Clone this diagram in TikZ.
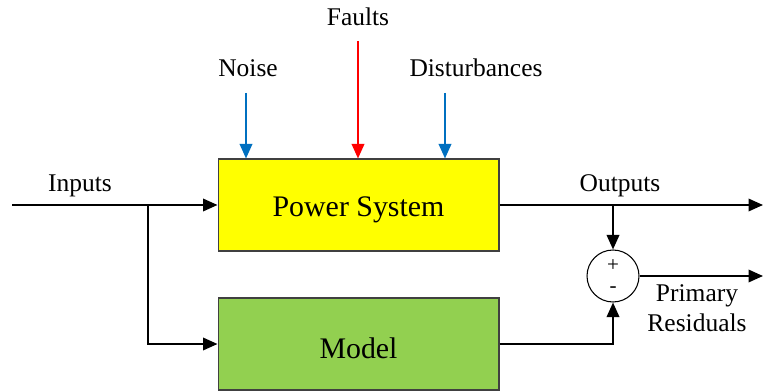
\documentclass[tikz,border=0pt]{standalone}
\usepackage{fontspec}
\setmainfont{Liberation Serif}
\usetikzlibrary{arrows.meta, positioning}
\definecolor{psyellow}{HTML}{FFFF00}
\definecolor{mdgreen}{HTML}{92D050}
\definecolor{nblue}{HTML}{0070C0}
\definecolor{fred}{HTML}{FF0000}
\tikzset{
    block/.style={draw=black!75, line width=0.6pt, minimum width=5.62cm, minimum height=1.84cm,
        text height=0.58cm, font=\fontsize{17}{20}\selectfont},
    conn/.style={line width=1.1pt, -{Triangle[length=0.29cm,width=0.25cm]}},
    lbl/.style={font=\fontsize{14.5}{17}\selectfont, inner sep=1pt},
    sign/.style={font=\fontsize{12}{13}\selectfont, inner sep=0pt}
}
\begin{document}
\begin{tikzpicture}[
    x={(0.02cm,0cm)},
    y={(0cm,-0.02cm)}
]
\useasboundingbox (0,0) rectangle (763,391);

% --- Bloecke ---
\node[block, fill=psyellow] (ps) at (358.5,205) {Power System};
\node[block, fill=mdgreen] (model) at (358.5,344) {Model};

% --- Summierstelle ---
\node[circle, draw, line width=0.6pt, minimum size=1.04cm, inner sep=0pt] (sum) at (613,276) {};
\node[sign] (plus) at (613,266) {+};
\node[sign] (minus) at (613,290) {-};

% --- Eingang ---
\coordinate (in) at (12,205);
\coordinate (br) at (148,205);
\node[lbl] (inlbl) at (80,186) {Inputs};
\draw[conn] (in) -- (ps.west);
\draw[conn] (br) |- (model.west);

% --- Ausgang ---
\coordinate (out) at (763,205);
\coordinate (oj) at (613,205);
\node[lbl] (outlbl) at (620,186) {Outputs};
\draw[conn] (ps.east) -- (out);
\draw[conn] (oj) -- (sum.north);
\draw[conn] (model.east) -| (sum.south);

% --- Residuen ---
\coordinate (res) at (763,276);
\draw[conn] (sum.east) -- (res);
\node[lbl, align=center] (reslbl) at (697,308) {Primary\\Residuals};

% --- Stoergroessen ---
\node[lbl] (noiselbl) at (248,68) {Noise};
\node[lbl] (faultlbl) at (358,17) {Faults};
\node[lbl] (distlbl) at (476,68) {Disturbances};
\coordinate (noise) at (246,93);
\coordinate (fault) at (358,41);
\coordinate (dist) at (445,93);
\draw[conn, nblue] (noise) -- (noise |- ps.north);
\draw[conn, fred] (fault) -- (fault |- ps.north);
\draw[conn, nblue] (dist) -- (dist |- ps.north);

\end{tikzpicture}
\end{document}
